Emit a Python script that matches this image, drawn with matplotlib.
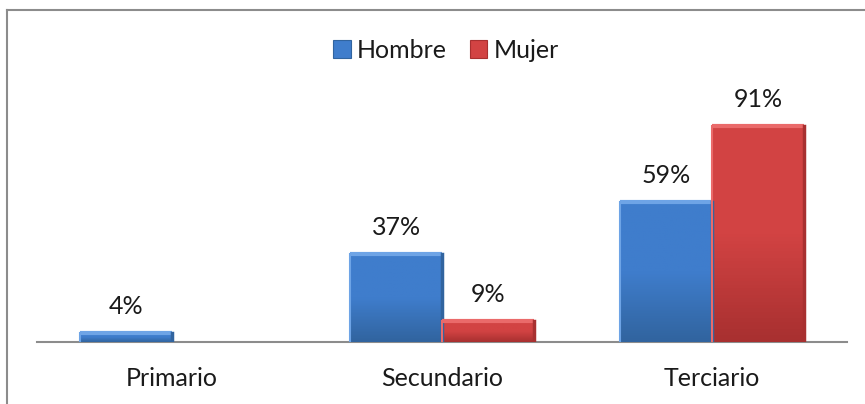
import numpy as np
import matplotlib.pyplot as plt
from matplotlib.lines import Line2D
from matplotlib.colors import LinearSegmentedColormap

plt.rcParams['font.family'] = ['Lato', 'DejaVu Sans']

categories = ['Primario', 'Secundario', 'Terciario']
series = ['Hombre', 'Mujer']
hombre = [4, 37, 59]
mujer = [0, 9, 91]

# (top rim, body, lower body / right rim)
colors = {'Hombre': ('#6ea4e6', '#3f7dcc', '#31649f'),
          'Mujer': ('#ea6a6a', '#d24343', '#a83030')}

W, H = 865, 404
fig = plt.figure(figsize=(W / 100, H / 100), dpi=100)
ax = fig.add_axes([37 / W, (H - 342) / H, (847 - 37) / W, (342 - 105) / H])

x = np.arange(len(categories))
width = 0.34


def shaded_bars(xpos, values, name):
    top, mid, bottom = colors[name]
    cmap = LinearSegmentedColormap.from_list(name, [bottom, mid, mid])
    bars = ax.bar(xpos, values, width, color=mid, edgecolor='none', label=name, zorder=2)
    for bar, v in zip(bars, values):
        if v <= 0:
            bar.set_visible(False)
            continue
        x0, y0 = bar.get_x(), bar.get_y()
        w, h = bar.get_width(), bar.get_height()
        grad = np.linspace(0, 1, 64).reshape(-1, 1)
        im = ax.imshow(grad, cmap=cmap, origin='lower', aspect='auto',
                       extent=(x0, x0 + w, y0, y0 + h), zorder=3)
        im.set_clip_path(bar)
        # bevel: light rim on top/left, dark rim on right
        ax.plot([x0, x0 + w], [y0 + h, y0 + h], color=top, lw=3, zorder=4,
                solid_capstyle='butt')
        ax.plot([x0 + w, x0 + w], [y0, y0 + h], color=bottom, lw=2.5, zorder=4)
        ax.plot([x0, x0], [y0, y0 + h], color=top, lw=1.5, zorder=4)
        ax.annotate(f'{v}%', (x0 + w / 2, y0 + h), xytext=(0, 19), textcoords='offset points',
                    ha='center', va='center', fontsize=18, color='#1a1a1a')
    return bars


shaded_bars(x - width / 2, hombre, 'Hombre')
shaded_bars(x + width / 2, mujer, 'Mujer')

ax.set_xlim(-0.5, len(categories) - 0.5)
ax.set_ylim(0, 100)
ax.set_xticks(x)
ax.set_xticklabels(categories, fontsize=18, color='#1a1a1a')
ax.tick_params(axis='x', length=0, pad=18)
ax.set_yticks([])
for side in ['top', 'right', 'left']:
    ax.spines[side].set_visible(False)
ax.spines['bottom'].set_color('#8c8c8c')
ax.spines['bottom'].set_linewidth(1.5)

handles = [plt.Rectangle((0, 0), 1, 1, facecolor=colors[s][1], edgecolor=colors[s][2], lw=0.8)
           for s in series]
fig.legend(handles, series, loc='center', bbox_to_anchor=(446 / W, 1 - 50 / H),
           ncol=2, frameon=False, fontsize=18, handlelength=0.7, handleheight=0.7,
           handletextpad=0.25, columnspacing=0.9, labelcolor='#1a1a1a')

# outer chart frame (top and left edges)
fig.add_artist(Line2D([7 / W, 7 / W], [0, 1 - 10 / H], transform=fig.transFigure,
                      color='#8c8c8c', lw=1.5))
fig.add_artist(Line2D([7 / W, 1], [1 - 10 / H, 1 - 10 / H], transform=fig.transFigure,
                      color='#8c8c8c', lw=1.5))

fig.savefig('out.png', dpi=100)
